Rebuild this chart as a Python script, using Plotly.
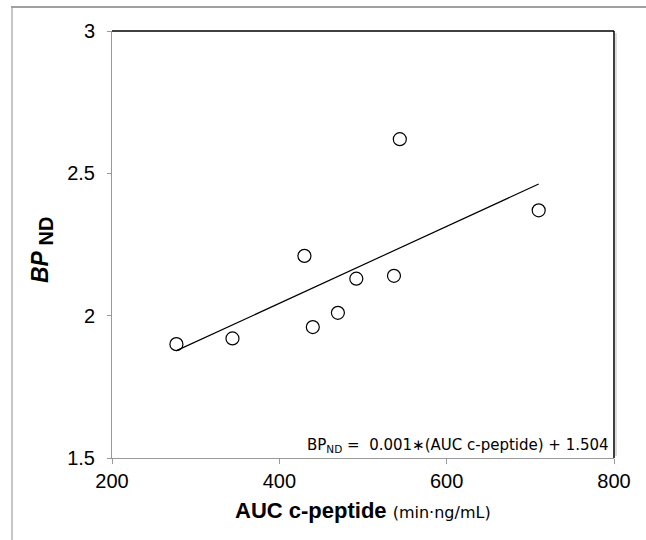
import numpy as np
import plotly.graph_objects as go

# Data
auc_cpeptide = [277, 344, 430, 440, 470, 492, 537, 544, 710]
bp_nd = [1.90, 1.92, 2.21, 1.96, 2.01, 2.13, 2.14, 2.62, 2.37]

x_ticks = [200, 400, 600, 800]
y_ticks = [1.5, 2, 2.5, 3]
y_tick_labels = ["1.5", "2", "2.5", "3"]

# Least-squares trend line (matches the printed equation)
slope, intercept = np.polyfit(auc_cpeptide, bp_nd, 1)
fit_x = [min(auc_cpeptide), max(auc_cpeptide)]
fit_y = [slope * v + intercept for v in fit_x]

fig = go.Figure()
fig.add_trace(go.Scatter(
    x=fit_x, y=fit_y, mode="lines",
    line=dict(color="black", width=1.2), hoverinfo="skip", showlegend=False))
fig.add_trace(go.Scatter(
    x=auc_cpeptide, y=bp_nd, mode="markers",
    marker=dict(symbol="circle-open", size=13, color="black", line=dict(width=1.2)),
    showlegend=False))

W, H = 646, 540
L, R, T, B = 112, 32, 31, 82
pw, ph = W - L - R, H - T - B

def px(xpix):
    return (xpix - L) / pw

def py(ypix):
    return (H - B - ypix) / ph

tick_font = dict(family="Liberation Sans, Arial, sans-serif", size=20, color="black")

fig.update_layout(
    width=W, height=H,
    margin=dict(l=L, r=R, t=T, b=B),
    paper_bgcolor="white", plot_bgcolor="white",
    xaxis=dict(range=[200, 800], tickvals=x_ticks, ticks="outside", ticklen=5,
               tickcolor="#999999", showgrid=False, zeroline=False,
               showline=True, linecolor="#999999", linewidth=1,
               tickfont=tick_font, ticklabelstandoff=0),
    yaxis=dict(range=[1.5, 3], tickvals=y_ticks, ticktext=y_tick_labels,
               ticks="outside", ticklen=4, tickcolor="#999999", showgrid=False,
               zeroline=False, showline=True, linecolor="#999999", linewidth=1,
               tickfont=tick_font, ticklabelstandoff=8),
    shapes=[
        # top and right frame of plot area (black)
        dict(type="line", xref="paper", yref="paper", x0=0, x1=1, y0=1, y1=1,
             line=dict(color="black", width=1.5)),
        dict(type="line", xref="paper", yref="paper", x0=1, x1=1, y0=0, y1=1,
             line=dict(color="black", width=1.5)),
        dict(type="line", xref="paper", yref="paper", x0=px(616), x1=px(616),
             y0=py(456), y1=py(33), line=dict(color="#bbbbbb", width=1)),
        # outer picture frame (top and left)
        dict(type="line", xref="paper", yref="paper", x0=px(11), x1=px(646),
             y0=py(7), y1=py(7), line=dict(color="#808080", width=1.5)),
        dict(type="line", xref="paper", yref="paper", x0=px(12), x1=px(12),
             y0=py(7), y1=py(540), line=dict(color="#a0a0a0", width=1.2)),
    ],
    annotations=[
        dict(xref="paper", yref="paper", x=px(363), y=py(511),
             xanchor="center", yanchor="middle", showarrow=False,
             text="<b>AUC c-peptide</b> <span style='font-family:DejaVu Sans;font-size:16px'>(min·ng/mL)</span>",
             font=dict(family="Liberation Sans, Arial, sans-serif", size=22, color="black")),
        dict(xref="paper", yref="paper", x=px(42), y=py(250),
             xanchor="center", yanchor="middle", showarrow=False, textangle=-90,
             text="<b><i>BP</i></b><sub><span style='font-size:20px'><b> ND</b></span></sub>",
             font=dict(family="Liberation Sans, Arial, sans-serif", size=23, color="black")),
        dict(xref="paper", yref="paper", x=px(611), y=py(445),
             xanchor="right", yanchor="middle", showarrow=False,
             text="BP<sub>ND</sub> =  0.001∗(AUC c-peptide) + 1.504",
             font=dict(family="DejaVu Sans, sans-serif", size=15, color="black")),
    ],
)

fig.write_html("out.html", config={"displayModeBar": False},
               post_script="document.body.style.margin='0';document.body.style.overflow='hidden';")
